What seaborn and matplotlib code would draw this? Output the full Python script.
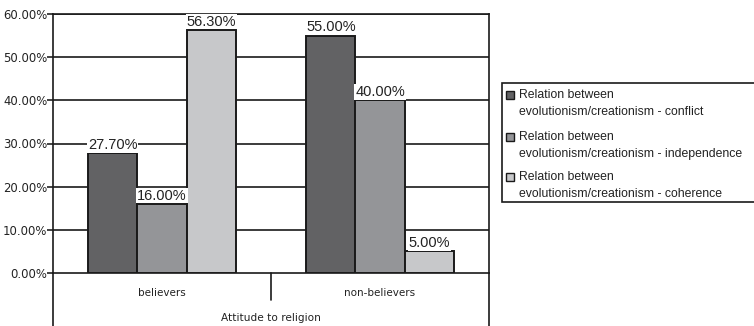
import matplotlib
matplotlib.use("Agg")
import matplotlib.pyplot as plt
import seaborn as sns
import pandas as pd
from matplotlib.lines import Line2D
from matplotlib.patches import Rectangle

categories = ["believers", "non-believers"]
series_names = [
    "Relation between\nevolutionism/creationism - conflict",
    "Relation between\nevolutionism/creationism - independence",
    "Relation between\nevolutionism/creationism - coherence",
]
conflict = [27.70, 55.00]
independence = [16.00, 40.00]
coherence = [56.30, 5.00]
y_ticks = [0, 10, 20, 30, 40, 50, 60]
x_title = "Attitude to religion"
colors = ["#626264", "#949598", "#c7c8ca"]

rows = []
for name, vals in zip(series_names, [conflict, independence, coherence]):
    for c, v in zip(categories, vals):
        rows.append({"category": c, "series": name, "value": v})
df = pd.DataFrame(rows)

sns.set_theme(style="white")
plt.rcParams["font.family"] = ["DejaVu Sans"]

W, H = 754, 326
fig = plt.figure(figsize=(W/100, H/100), dpi=100)
ax = fig.add_axes([53/W, 53/H, (489-53)/W, (273-14)/H])

sns.barplot(data=df, x="category", y="value", hue="series", hue_order=series_names,
            order=categories, palette=colors, width=0.675, saturation=1,
            edgecolor="#1a1a1a", linewidth=1.4, ax=ax, legend=False, zorder=3)

ax.set_ylim(0, 60)
ax.set_xlim(-0.5, 1.5)
ax.set_yticks(y_ticks)
ax.set_yticklabels([f"{t:.2f}%" for t in y_ticks], fontsize=8.4, color="#222222")
ax.tick_params(axis="y", length=4, width=1.2, color="#222222", pad=0, left=True)
ax.set_xticks([])
ax.set_xlabel("")
ax.set_ylabel("")
for t in y_ticks[1:]:
    ax.axhline(t, color="#1a1a1a", lw=1.2, zorder=1)
for s in ["left", "right", "top", "bottom"]:
    ax.spines[s].set_visible(True)
    ax.spines[s].set_color("#1a1a1a")
    ax.spines[s].set_linewidth(1.2)

for cont in ax.containers:
    ax.bar_label(cont, labels=[f"{v:.2f}%" for v in cont.datavalues], padding=1,
                 fontsize=10.5, family="Liberation Sans", color="#222222",
                 bbox=dict(facecolor="white", edgecolor="none", pad=0.5), zorder=4)

# extended frame below the axis
ybot = -(53 / (273-14))
ax.add_line(Line2D([0, 0], [0, ybot - 0.05], transform=ax.transAxes, color="#1a1a1a", lw=1.2, clip_on=False))
ax.add_line(Line2D([1, 1], [0, ybot - 0.05], transform=ax.transAxes, color="#1a1a1a", lw=1.2, clip_on=False))
ax.add_line(Line2D([0.5, 0.5], [0, -(27/259)], transform=ax.transAxes, color="#1a1a1a", lw=1.2, clip_on=False))
for i, c in enumerate(categories):
    ax.text(i, -(20/259) * 60, c, ha="center", va="center", fontsize=7.5, color="#222222")
ax.text(0.5, -(45/259), x_title, transform=ax.transAxes, ha="center", va="center",
        fontsize=7.6, color="#222222")

# legend box (drawn in figure pixel space)
def fx(px):
    return px / W

def fy(py):
    return 1 - py / H

fig.patches.append(Rectangle((fx(502), fy(202)), fx(270), (202-83)/H, transform=fig.transFigure,
                             facecolor="white", edgecolor="#1a1a1a", linewidth=1.2))
entry_y = [95, 137, 177]
line_gap = 17
for col, name, ey in zip(colors, series_names, entry_y):
    fig.patches.append(Rectangle((fx(506), fy(ey + 4)), 8/W, 8/H, transform=fig.transFigure,
                                 facecolor=col, edgecolor="#1a1a1a", linewidth=1.0))
    for k, line in enumerate(name.split("\n")):
        fig.text(fx(519), fy(ey + k*line_gap), line, ha="left", va="center",
                 family="Liberation Sans", fontsize=8.8, color="#222222")

fig.savefig("out.png", dpi=100)
